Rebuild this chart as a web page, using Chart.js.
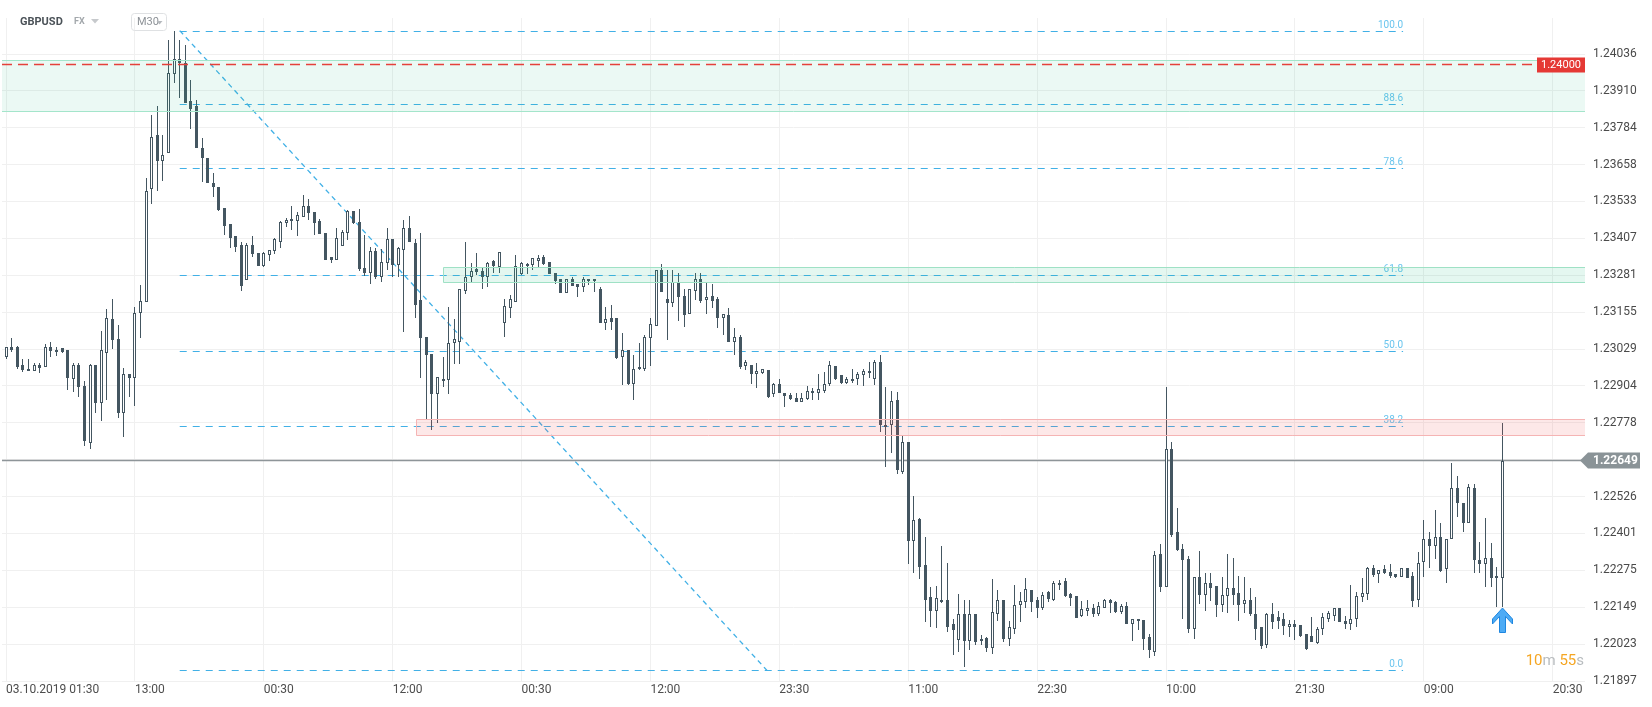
<!DOCTYPE html>
<html>
<head>
<meta charset="utf-8">
<title>GBPUSD M30</title>
<script src="https://cdn.jsdelivr.net/npm/chart.js@4.4.0/dist/chart.umd.min.js"></script>
<style>
    html, body { margin: 0; padding: 0; background: #fff; }
    #wrap { width: 1652px; height: 707px; }
</style>
</head>
<body>
<div id="wrap"><canvas id="chart" width="1652" height="707"></canvas></div>
<script>
// GBPUSD, M30 candles (open / high / low / close), oldest first
var opens = [
    1.23003, 1.23035, 1.23035, 1.22974, 1.22963, 1.22955, 1.22974, 1.22969, 1.23035, 1.23020,
    1.23032, 1.23025, 1.22929, 1.22974, 1.22905, 1.22710, 1.22974, 1.22847, 1.23015, 1.23132,
    1.23063, 1.22812, 1.22943, 1.22931, 1.23151, 1.23189, 1.23575, 1.23759, 1.23672, 1.23697,
    1.23967, 1.24019, 1.24007, 1.23875, 1.23859, 1.23717, 1.23683, 1.23595, 1.23583, 1.23511,
    1.23455, 1.23416, 1.23384, 1.23266, 1.23384, 1.23356, 1.23313, 1.23352, 1.23365, 1.23395,
    1.23458, 1.23465, 1.23467, 1.23481, 1.23517, 1.23496, 1.23466, 1.23424, 1.23342, 1.23333,
    1.23381, 1.23426, 1.23501, 1.23464, 1.23307, 1.23290, 1.23364, 1.23276, 1.23324, 1.23404,
    1.23316, 1.23369, 1.23441, 1.23393, 1.23196, 1.23069, 1.23012, 1.22875, 1.22926, 1.22923,
    1.23049, 1.23054, 1.23227, 1.23274, 1.23301, 1.23296, 1.23276, 1.23331, 1.23308, 1.23120,
    1.23168, 1.23191, 1.23285, 1.23319, 1.23316, 1.23331, 1.23342, 1.23325, 1.23288, 1.23270,
    1.23221, 1.23268, 1.23251, 1.23240, 1.23261, 1.23270, 1.23236, 1.23117, 1.23134, 1.23134,
    1.23001, 1.23026, 1.22909, 1.22960, 1.22963, 1.23066, 1.23109, 1.23299, 1.23199, 1.23185,
    1.23259, 1.23210, 1.23148, 1.23227, 1.23270, 1.23196, 1.23210, 1.23200, 1.23134, 1.23145,
    1.23054, 1.23069, 1.22971, 1.22974, 1.22944, 1.22949, 1.22958, 1.22876, 1.22909, 1.22881,
    1.22873, 1.22861, 1.22849, 1.22858, 1.22888, 1.22879, 1.22888, 1.22912, 1.22972, 1.22941,
    1.22914, 1.22921, 1.22926, 1.22941, 1.22955, 1.22926, 1.22984, 1.22764, 1.22770, 1.22855,
    1.22611, 1.22711, 1.22374, 1.22449, 1.22292, 1.22184, 1.22136, 1.22175, 1.22173, 1.22090,
    1.22036, 1.22127, 1.22034, 1.22124, 1.22033, 1.22044, 1.22009, 1.22127, 1.22173, 1.22042,
    1.22074, 1.22155, 1.22165, 1.22207, 1.22173, 1.22147, 1.22201, 1.22173, 1.22225, 1.22238,
    1.22193, 1.22187, 1.22118, 1.22136, 1.22147, 1.22124, 1.22147, 1.22175, 1.22167, 1.22133,
    1.22152, 1.22093, 1.22107, 1.22104, 1.22046, 1.21996, 1.22332, 1.22218, 1.22690, 1.22406,
    1.22349, 1.22312, 1.22074, 1.22251, 1.22192, 1.22230, 1.22221, 1.22156, 1.22188, 1.22213,
    1.22196, 1.22159, 1.22175, 1.22127, 1.22080, 1.22019, 1.22125, 1.22114, 1.22110, 1.22082,
    1.22091, 1.22088, 1.22057, 1.22050, 1.22027, 1.22076, 1.22110, 1.22118, 1.22145, 1.22101,
    1.22091, 1.22107, 1.22182, 1.22193, 1.22284, 1.22261, 1.22278, 1.22269, 1.22261, 1.22253,
    1.22284, 1.22255, 1.22173, 1.22304, 1.22383, 1.22357, 1.22387, 1.22278, 1.22380, 1.22557,
    1.22505, 1.22435, 1.22557, 1.22309, 1.22296, 1.22315, 1.22255, 1.22250
];
var highs = [
    1.23035, 1.23066, 1.23039, 1.22994, 1.22995, 1.22981, 1.22982, 1.23046, 1.23053, 1.23035,
    1.23032, 1.23025, 1.22983, 1.22982, 1.22920, 1.22977, 1.22974, 1.23091, 1.23166, 1.23200,
    1.23111, 1.22964, 1.22943, 1.23174, 1.23248, 1.23613, 1.23828, 1.23859, 1.23759, 1.24084,
    1.24116, 1.24084, 1.24067, 1.23947, 1.23879, 1.23748, 1.23683, 1.23629, 1.23583, 1.23511,
    1.23455, 1.23416, 1.23395, 1.23393, 1.23415, 1.23356, 1.23361, 1.23369, 1.23410, 1.23465,
    1.23475, 1.23517, 1.23498, 1.23555, 1.23540, 1.23498, 1.23472, 1.23424, 1.23344, 1.23441,
    1.23435, 1.23504, 1.23501, 1.23506, 1.23418, 1.23378, 1.23373, 1.23371, 1.23441, 1.23404,
    1.23378, 1.23469, 1.23483, 1.23405, 1.23426, 1.23069, 1.23012, 1.22935, 1.23001, 1.23174,
    1.23131, 1.23236, 1.23395, 1.23324, 1.23358, 1.23310, 1.23327, 1.23335, 1.23359, 1.23202,
    1.23213, 1.23350, 1.23327, 1.23324, 1.23339, 1.23350, 1.23350, 1.23325, 1.23288, 1.23270,
    1.23270, 1.23276, 1.23253, 1.23276, 1.23270, 1.23270, 1.23242, 1.23172, 1.23179, 1.23134,
    1.23083, 1.23026, 1.23009, 1.23049, 1.23077, 1.23137, 1.23299, 1.23319, 1.23299, 1.23299,
    1.23288, 1.23236, 1.23236, 1.23290, 1.23288, 1.23255, 1.23253, 1.23206, 1.23148, 1.23168,
    1.23100, 1.23077, 1.22992, 1.22974, 1.22983, 1.22963, 1.22958, 1.22914, 1.22926, 1.22881,
    1.22879, 1.22879, 1.22879, 1.22902, 1.22895, 1.22944, 1.22952, 1.22989, 1.22972, 1.22941,
    1.22935, 1.22963, 1.22952, 1.22960, 1.22986, 1.22992, 1.23009, 1.22899, 1.22886, 1.22884,
    1.22736, 1.22711, 1.22528, 1.22452, 1.22388, 1.22218, 1.22221, 1.22357, 1.22300, 1.22110,
    1.22193, 1.22175, 1.22175, 1.22124, 1.22053, 1.22047, 1.22245, 1.22207, 1.22173, 1.22102,
    1.22224, 1.22201, 1.22247, 1.22207, 1.22184, 1.22201, 1.22204, 1.22238, 1.22241, 1.22247,
    1.22196, 1.22187, 1.22171, 1.22175, 1.22159, 1.22167, 1.22176, 1.22176, 1.22171, 1.22159,
    1.22167, 1.22107, 1.22107, 1.22104, 1.22059, 1.22341, 1.22366, 1.22901, 1.22713, 1.22486,
    1.22364, 1.22323, 1.22251, 1.22340, 1.22264, 1.22264, 1.22221, 1.22253, 1.22332, 1.22315,
    1.22256, 1.22253, 1.22213, 1.22184, 1.22080, 1.22129, 1.22164, 1.22135, 1.22129, 1.22105,
    1.22105, 1.22088, 1.22057, 1.22116, 1.22082, 1.22129, 1.22136, 1.22147, 1.22145, 1.22118,
    1.22224, 1.22201, 1.22247, 1.22286, 1.22292, 1.22275, 1.22292, 1.22296, 1.22261, 1.22284,
    1.22284, 1.22269, 1.22338, 1.22448, 1.22406, 1.22480, 1.22435, 1.22383, 1.22641, 1.22596,
    1.22505, 1.22569, 1.22569, 1.22372, 1.22452, 1.22368, 1.22286, 1.22778
];
var lows = [
    1.22996, 1.23019, 1.22962, 1.22951, 1.22955, 1.22955, 1.22948, 1.22969, 1.23003, 1.23006,
    1.23015, 1.22890, 1.22884, 1.22867, 1.22698, 1.22688, 1.22810, 1.22785, 1.22856, 1.23029,
    1.22795, 1.22728, 1.22867, 1.22836, 1.23066, 1.23189, 1.23526, 1.23569, 1.23604, 1.23697,
    1.23936, 1.23887, 1.23868, 1.23782, 1.23714, 1.23600, 1.23595, 1.23549, 1.23500, 1.23418,
    1.23373, 1.23359, 1.23228, 1.23266, 1.23342, 1.23313, 1.23310, 1.23331, 1.23353, 1.23375,
    1.23447, 1.23435, 1.23415, 1.23481, 1.23469, 1.23418, 1.23421, 1.23333, 1.23324, 1.23333,
    1.23381, 1.23401, 1.23456, 1.23296, 1.23278, 1.23253, 1.23270, 1.23259, 1.23299, 1.23276,
    1.23276, 1.23086, 1.23395, 1.23136, 1.22931, 1.22789, 1.22753, 1.22778, 1.22899, 1.22875,
    1.22978, 1.22978, 1.23219, 1.23259, 1.23282, 1.23236, 1.23242, 1.23290, 1.23290, 1.23069,
    1.23137, 1.23191, 1.23282, 1.23285, 1.23299, 1.23305, 1.23316, 1.23285, 1.23253, 1.23221,
    1.23221, 1.23244, 1.23208, 1.23225, 1.23248, 1.23225, 1.23117, 1.23096, 1.23094, 1.22994,
    1.22906, 1.22906, 1.22855, 1.22958, 1.22955, 1.22972, 1.23109, 1.23225, 1.23062, 1.23172,
    1.23126, 1.23105, 1.23148, 1.23196, 1.23187, 1.23148, 1.23168, 1.23103, 1.23077, 1.23054,
    1.23009, 1.22960, 1.22958, 1.22912, 1.22895, 1.22944, 1.22861, 1.22867, 1.22879, 1.22833,
    1.22855, 1.22849, 1.22849, 1.22855, 1.22855, 1.22855, 1.22879, 1.22902, 1.22923, 1.22910,
    1.22912, 1.22914, 1.22906, 1.22902, 1.22931, 1.22906, 1.22747, 1.22628, 1.22676, 1.22603,
    1.22603, 1.22297, 1.22265, 1.22246, 1.22099, 1.22082, 1.22078, 1.22162, 1.22065, 1.21985,
    1.21996, 1.21944, 1.22002, 1.22019, 1.22019, 1.21996, 1.21989, 1.22102, 1.22031, 1.22015,
    1.22057, 1.22099, 1.22145, 1.22133, 1.22112, 1.22139, 1.22167, 1.22171, 1.22207, 1.22184,
    1.22152, 1.22112, 1.22114, 1.22118, 1.22114, 1.22118, 1.22145, 1.22130, 1.22130, 1.22125,
    1.22090, 1.22034, 1.22071, 1.22002, 1.21975, 1.21982, 1.22201, 1.22218, 1.22389, 1.22341,
    1.22110, 1.22061, 1.22042, 1.22159, 1.22136, 1.22171, 1.22116, 1.22133, 1.22130, 1.22156,
    1.22102, 1.22130, 1.22118, 1.22036, 1.22005, 1.22009, 1.22073, 1.22073, 1.22053, 1.22046,
    1.22036, 1.22046, 1.22002, 1.22031, 1.22023, 1.22053, 1.22099, 1.22101, 1.22099, 1.22073,
    1.22071, 1.22082, 1.22167, 1.22175, 1.22253, 1.22232, 1.22261, 1.22250, 1.22247, 1.22253,
    1.22250, 1.22148, 1.22148, 1.22253, 1.22281, 1.22312, 1.22269, 1.22230, 1.22380, 1.22455,
    1.22406, 1.22435, 1.22265, 1.22265, 1.22218, 1.22218, 1.22148, 1.22148
];
var closes = [
    1.23035, 1.23026, 1.22969, 1.22958, 1.22955, 1.22974, 1.22965, 1.23035, 1.23023, 1.23028,
    1.23020, 1.22931, 1.22974, 1.22901, 1.22715, 1.22974, 1.22847, 1.23028, 1.23134, 1.23061,
    1.22812, 1.22943, 1.22931, 1.23154, 1.23193, 1.23568, 1.23754, 1.23672, 1.23691, 1.23970,
    1.24019, 1.24004, 1.23868, 1.23848, 1.23714, 1.23682, 1.23595, 1.23583, 1.23504, 1.23450,
    1.23409, 1.23378, 1.23245, 1.23383, 1.23353, 1.23313, 1.23356, 1.23369, 1.23404, 1.23463,
    1.23469, 1.23472, 1.23486, 1.23517, 1.23492, 1.23460, 1.23421, 1.23333, 1.23333, 1.23407,
    1.23429, 1.23501, 1.23458, 1.23301, 1.23290, 1.23364, 1.23276, 1.23327, 1.23404, 1.23316,
    1.23373, 1.23441, 1.23395, 1.23179, 1.23068, 1.23009, 1.22875, 1.22935, 1.22919, 1.23049,
    1.23063, 1.23236, 1.23276, 1.23296, 1.23293, 1.23276, 1.23324, 1.23312, 1.23359, 1.23176,
    1.23199, 1.23313, 1.23322, 1.23312, 1.23339, 1.23339, 1.23319, 1.23285, 1.23261, 1.23221,
    1.23268, 1.23245, 1.23240, 1.23267, 1.23270, 1.23261, 1.23117, 1.23132, 1.23122, 1.23000,
    1.23028, 1.22909, 1.22963, 1.22969, 1.23069, 1.23114, 1.23299, 1.23225, 1.23185, 1.23257,
    1.23206, 1.23145, 1.23233, 1.23269, 1.23194, 1.23206, 1.23194, 1.23134, 1.23148, 1.23054,
    1.23069, 1.22969, 1.22986, 1.22946, 1.22955, 1.22960, 1.22867, 1.22912, 1.22879, 1.22869,
    1.22858, 1.22849, 1.22861, 1.22885, 1.22879, 1.22893, 1.22912, 1.22974, 1.22929, 1.22914,
    1.22926, 1.22929, 1.22944, 1.22955, 1.22948, 1.22984, 1.22770, 1.22772, 1.22853, 1.22616,
    1.22713, 1.22374, 1.22446, 1.22286, 1.22175, 1.22136, 1.22179, 1.22167, 1.22082, 1.22071,
    1.22127, 1.22034, 1.22127, 1.22031, 1.22042, 1.22009, 1.22131, 1.22175, 1.22040, 1.22080,
    1.22155, 1.22169, 1.22210, 1.22165, 1.22147, 1.22190, 1.22176, 1.22233, 1.22233, 1.22187,
    1.22181, 1.22112, 1.22142, 1.22147, 1.22124, 1.22152, 1.22175, 1.22162, 1.22133, 1.22152,
    1.22093, 1.22107, 1.22101, 1.22042, 1.22002, 1.22326, 1.22218, 1.22687, 1.22395, 1.22343,
    1.22309, 1.22076, 1.22251, 1.22192, 1.22230, 1.22216, 1.22156, 1.22190, 1.22213, 1.22192,
    1.22156, 1.22175, 1.22124, 1.22076, 1.22015, 1.22127, 1.22099, 1.22102, 1.22085, 1.22091,
    1.22082, 1.22050, 1.22005, 1.22031, 1.22076, 1.22114, 1.22129, 1.22145, 1.22099, 1.22093,
    1.22110, 1.22187, 1.22196, 1.22281, 1.22258, 1.22275, 1.22266, 1.22255, 1.22253, 1.22284,
    1.22250, 1.22171, 1.22300, 1.22380, 1.22357, 1.22387, 1.22273, 1.22383, 1.22557, 1.22505,
    1.22437, 1.22559, 1.22309, 1.22296, 1.22315, 1.22250, 1.22247, 1.22649
];

// time axis: one label every 23 bars
var xTickIdx = [0, 23, 46, 69, 92, 115, 138, 161, 184, 207, 230, 253, 276];
var xTickLabels = ['03.10.2019 01:30', '13:00', '00:30', '12:00', '00:30', '12:00', '23:30',
    '11:00', '22:30', '10:00', '21:30', '09:00', '20:30'];
var yTickVals = [1.21897, 1.22023, 1.22149, 1.22275, 1.22401, 1.22526, 1.22652, 1.22778, 1.22904,
    1.23029, 1.23155, 1.23281, 1.23407, 1.23533, 1.23658, 1.23784, 1.23910, 1.24036];

// drawings on the chart
var fibLevels = [0, 38.2, 50, 61.8, 78.6, 88.6, 100];
var fibHigh = 1.24116;
var fibLow = 1.21933;
var fibStart = 31, fibEnd = 249.3, diagEnd = 135.8;
var lastPrice = 1.22649;
var alertPrice = 1.24000;
var zones = [
    {from: -1, top: 1.24014, bottom: 1.23842, fill: 'rgba(30,190,130,0.09)', line: '#a4e5cb'},
    {from: 78, top: 1.23311, bottom: 1.23260, fill: 'rgba(30,190,130,0.12)', line: '#9fe1c5'},
    {from: 73.2, top: 1.22790, bottom: 1.22738, fill: 'rgba(240,80,80,0.13)', line: '#f5b4b4'}
];

var candleColor = '#445661';

function fibPrice(lv) {
    return fibLow + (fibHigh - fibLow) * lv / 100;
}

var overlay = {
    id: 'overlay',
    // keep candles on whole pixels
    afterDatasetsUpdate: function(chart) {
        chart.data.datasets.forEach(function(ds, di) {
            chart.getDatasetMeta(di).data.forEach(function(el) {
                el.x = Math.floor(el.x) + 0.5;
                el.y = Math.round(el.y);
                el.base = Math.round(el.base);
                if (el.base === el.y) el.base = el.y + 1;
            });
        });
    },
    beforeDatasetsDraw: function(chart) {
        var c = chart.ctx, a = chart.chartArea, xs = chart.scales.x, ys = chart.scales.y;
        c.save();
        c.beginPath();
        c.rect(a.left, a.top, a.right - a.left, a.bottom - a.top);
        c.clip();

        // fibonacci levels
        var x1 = xs.getPixelForValue(fibStart), x2 = xs.getPixelForValue(fibEnd);
        c.strokeStyle = '#41b0e6';
        c.lineWidth = 1;
        c.setLineDash([7, 6]);
        c.font = '10px Roboto';
        c.textAlign = 'right';
        c.textBaseline = 'alphabetic';
        fibLevels.forEach(function(lv) {
            var y = Math.round(ys.getPixelForValue(fibPrice(lv))) + 0.5;
            c.beginPath();
            c.moveTo(x1, y);
            c.lineTo(x2, y);
            c.stroke();
            c.fillStyle = '#6ac5ee';
            c.fillText(lv.toFixed(1), x2, y - 4);
        });
        c.lineWidth = 1.3;
        c.setLineDash([5, 4]);
        c.beginPath();
        c.moveTo(x1, ys.getPixelForValue(fibHigh));
        c.lineTo(xs.getPixelForValue(diagEnd), ys.getPixelForValue(fibLow));
        c.stroke();

        // last price line
        c.setLineDash([]);
        c.strokeStyle = '#8e9599';
        c.lineWidth = 1.5;
        var yl = ys.getPixelForValue(lastPrice);
        c.beginPath();
        c.moveTo(a.left, yl);
        c.lineTo(a.right, yl);
        c.stroke();
        c.restore();
    },
    afterDatasetsDraw: function(chart) {
        var c = chart.ctx, a = chart.chartArea, xs = chart.scales.x, ys = chart.scales.y;
        c.save();
        c.beginPath();
        c.rect(a.left, a.top, a.right - a.left, a.bottom - a.top);
        c.clip();

        zones.forEach(function(z) {
            var xl = Math.max(a.left, Math.round(xs.getPixelForValue(z.from)) + 0.5);
            var yt = Math.round(ys.getPixelForValue(z.top)) + 0.5;
            var yb = Math.round(ys.getPixelForValue(z.bottom)) + 0.5;
            c.fillStyle = z.fill;
            c.fillRect(xl, yt, a.right - xl, yb - yt);
            c.strokeStyle = z.line;
            c.lineWidth = 1;
            c.beginPath();
            c.moveTo(a.right, yt);
            c.lineTo(xl, yt);
            if (xl > a.left + 1) {
                c.lineTo(xl, yb);
            } else {
                c.moveTo(xl, yb);
            }
            c.lineTo(a.right, yb);
            c.stroke();
        });

        // alert level
        var yr = ys.getPixelForValue(alertPrice);
        c.strokeStyle = '#e5413b';
        c.lineWidth = 1.5;
        c.setLineDash([10, 6]);
        c.beginPath();
        c.moveTo(a.left, yr);
        c.lineTo(a.right - 53, yr);
        c.stroke();
        c.setLineDash([]);

        // arrow under the last candle
        var last = opens.length - 1;
        var ax = Math.floor(xs.getPixelForValue(last)) + 0.5;
        var at = Math.round(ys.getPixelForValue(lows[last])) + 1;
        c.beginPath();
        c.moveTo(ax, at);
        c.lineTo(ax + 10, at + 11);
        c.lineTo(ax + 10, at + 16);
        c.lineTo(ax + 3, at + 8.5);
        c.lineTo(ax + 3, at + 24.5);
        c.lineTo(ax - 3, at + 24.5);
        c.lineTo(ax - 3, at + 8.5);
        c.lineTo(ax - 10, at + 16);
        c.lineTo(ax - 10, at + 11);
        c.closePath();
        c.fillStyle = '#4dabf5';
        c.fill();
        c.strokeStyle = '#1f87e0';
        c.lineWidth = 1;
        c.stroke();

        // candle timer
        var parts = [['10', '#f5a623'], ['m', '#b8bcbf'], [' ', '#fff'], ['55', '#f5a623'], ['s', '#b8bcbf']];
        c.font = '15px Roboto';
        c.textAlign = 'left';
        c.textBaseline = 'middle';
        var tw = 0;
        parts.forEach(function(p) { tw += c.measureText(p[0]).width; });
        var tx = a.right - 1 - tw;
        parts.forEach(function(p) {
            c.fillStyle = p[1];
            c.fillText(p[0], tx, 661);
            tx += c.measureText(p[0]).width;
        });
        c.restore();
    },
    afterDraw: function(chart) {
        var c = chart.ctx, a = chart.chartArea, ys = chart.scales.y;
        c.save();

        // alert tag
        var yr = ys.getPixelForValue(alertPrice);
        c.fillStyle = '#e53935';
        c.fillRect(a.right - 48, Math.round(yr) - 7.5, 48, 15);
        c.fillStyle = '#ffffff';
        c.font = '11px Roboto';
        c.textAlign = 'center';
        c.textBaseline = 'middle';
        c.fillText(alertPrice.toFixed(5), a.right - 24, Math.round(yr) + 0.5);

        // last price tag
        var yl = ys.getPixelForValue(lastPrice);
        c.fillStyle = '#8a9397';
        c.beginPath();
        c.moveTo(a.right - 5, yl);
        c.lineTo(a.right + 3, yl - 8);
        c.lineTo(a.right + 55, yl - 8);
        c.lineTo(a.right + 55, yl + 8);
        c.lineTo(a.right + 3, yl + 8);
        c.closePath();
        c.fill();
        c.fillStyle = '#ffffff';
        c.font = 'bold 12px Roboto';
        c.textAlign = 'left';
        c.fillText(lastPrice.toFixed(5), a.right + 8, yl + 0.5);

        // header
        c.font = 'bold 11px Roboto';
        c.fillStyle = '#4b5258';
        c.fillText('GBPUSD', 20, 22);
        c.font = 'bold 9px Roboto';
        c.fillStyle = '#a3a8ac';
        c.fillText('FX', 74, 22);
        c.fillStyle = '#c6c9cc';
        c.beginPath();
        c.moveTo(91, 19); c.lineTo(99, 19); c.lineTo(95, 23.5);
        c.closePath();
        c.fill();
        c.strokeStyle = '#dfe1e3';
        c.lineWidth = 1;
        c.beginPath();
        c.roundRect(131.5, 13.5, 35, 17, 3);
        c.stroke();
        c.font = '11px Roboto';
        c.fillStyle = '#8d9297';
        c.fillText('M30', 137, 22.5);
        c.fillStyle = '#b5b9bd';
        c.beginPath();
        c.moveTo(156.5, 21); c.lineTo(162.5, 21); c.lineTo(159.5, 24.5);
        c.closePath();
        c.fill();
        c.restore();
    }
};

document.addEventListener('DOMContentLoaded', function() {
    Chart.defaults.font.family = 'Roboto, "Noto Sans", sans-serif';
    Chart.defaults.font.size = 12;
    Chart.defaults.color = '#4d4d4d';

    var idx = opens.map(function(v, i) { return i; });
    var ctx = document.getElementById('chart');
    var chart = new Chart(ctx, {
        type: 'bar',
        data: {
            datasets: [{
                label: 'body',
                data: idx.map(function(i) { return {x: i, y: [opens[i], closes[i]]}; }),
                backgroundColor: function(c) {
                    var i = c.dataIndex;
                    return closes[i] >= opens[i] ? '#ffffff' : candleColor;
                },
                borderColor: candleColor,
                borderWidth: 1,
                borderSkipped: false,
                barThickness: 3,
                maxBarThickness: 3,
                minBarLength: 1,
                grouped: false,
                inflateAmount: 0,
                order: 1
            }, {
                label: 'wick',
                data: idx.map(function(i) { return {x: i, y: [lows[i], highs[i]]}; }),
                backgroundColor: candleColor,
                borderWidth: 0,
                barThickness: 1,
                maxBarThickness: 1,
                grouped: false,
                inflateAmount: 0,
                order: 2
            }]
        },
        options: {
            responsive: false,
            animation: false,
            layout: {
                padding: {left: 2, top: 18, right: 0, bottom: 0}
            },
            plugins: {
                legend: {display: false},
                tooltip: {enabled: false}
            },
            scales: {
                x: {
                    type: 'linear',
                    min: -0.714,
                    max: 281.76,
                    offset: false,
                    grid: {offset: false, color: '#f0f0f0', drawTicks: false},
                    border: {display: false},
                    afterBuildTicks: function(s) {
                        s.ticks = xTickIdx.map(function(v) { return {value: v}; });
                    },
                    ticks: {
                        autoSkip: false,
                        maxRotation: 0,
                        align: 'start',
                        padding: 2,
                        color: '#4d4d4d',
                        callback: function(v, i) { return xTickLabels[i]; }
                    },
                    afterFit: function(s) { s.height = 26; }
                },
                y: {
                    type: 'linear',
                    position: 'right',
                    min: 1.21897,
                    max: 1.24159,
                    beginAtZero: false,
                    grid: {color: '#f0f0f0', drawTicks: false},
                    border: {display: false},
                    afterBuildTicks: function(s) {
                        s.ticks = yTickVals.map(function(v) { return {value: v}; });
                    },
                    ticks: {
                        padding: 8,
                        color: '#4a4a4a',
                        callback: function(v) { return v.toFixed(5); }
                    },
                    afterFit: function(s) { s.width = 67; }
                }
            }
        },
        plugins: [overlay]
    });
});
</script>
</body>
</html>
